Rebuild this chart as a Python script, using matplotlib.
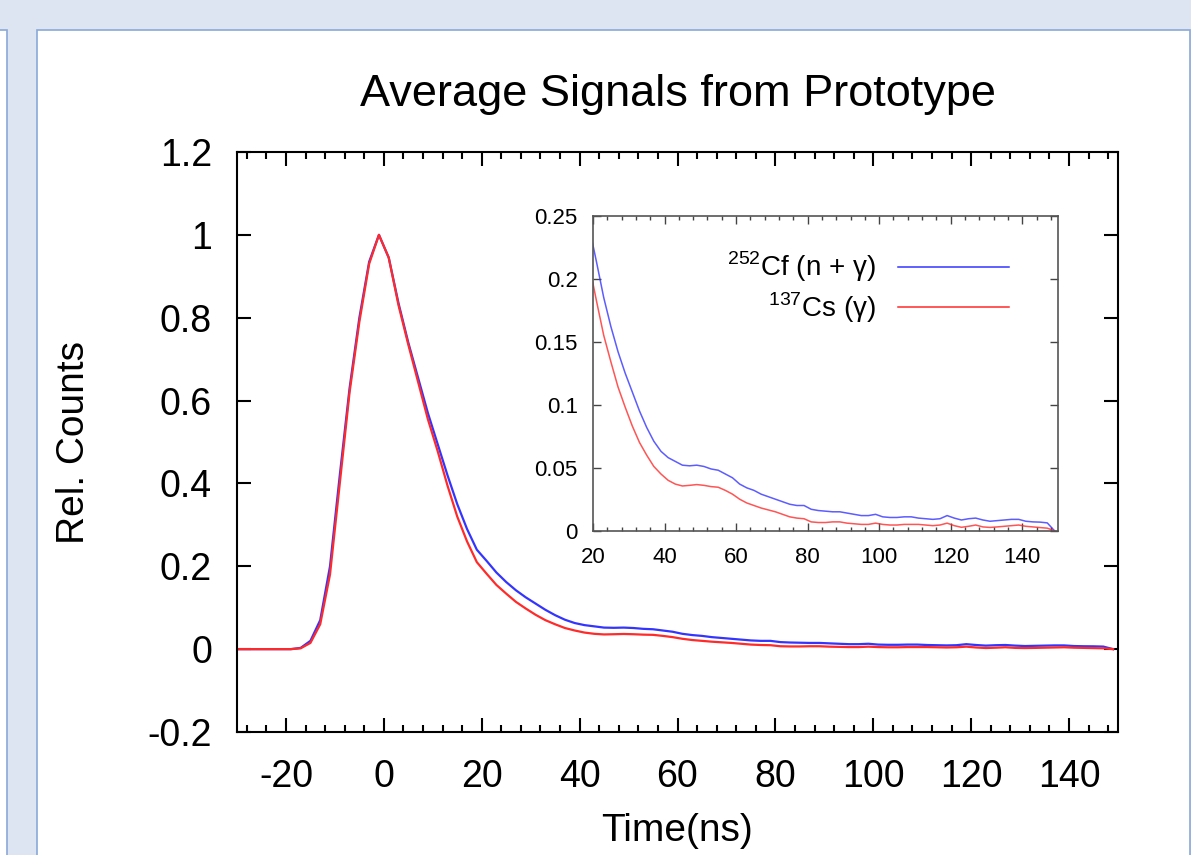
import matplotlib
matplotlib.use('Agg')
import matplotlib.pyplot as plt
from matplotlib.patches import Rectangle
from matplotlib.ticker import MultipleLocator, FormatStrFormatter

plt.rcParams['font.family'] = ['Liberation Sans', 'DejaVu Sans']
plt.rcParams['mathtext.fontset'] = 'custom'
plt.rcParams['mathtext.rm'] = 'Liberation Sans'
plt.rcParams['axes.unicode_minus'] = False

# time axis in ns, one sample every 2 ns
time_ns = list(range(-31, 150, 2))

# 252Cf (n + gamma)
cf_signal = [
    0, 0, 0, 0, 0, 0, 0,                      # -31 .. -19
    0.003, 0.02, 0.07, 0.2, 0.42, 0.63, 0.80, 0.935,   # -17 .. -3
    1.0, 0.945, 0.835, 0.74, 0.655, 0.57, 0.495, 0.42,  # -1 .. 13
    0.35, 0.29, 0.24, 0.213, 0.185, 0.162, 0.142, 0.125,  # 15 .. 29
    0.11, 0.095, 0.082, 0.071, 0.063, 0.058, 0.055, 0.052,  # 31 .. 45
    0.0515, 0.052, 0.051, 0.049, 0.048, 0.045, 0.042, 0.037,  # 47 .. 61
    0.034, 0.032, 0.029, 0.027, 0.025, 0.023, 0.021, 0.020,  # 63 .. 77
    0.020, 0.017, 0.016, 0.0155, 0.015, 0.015, 0.014, 0.013,  # 79 .. 93
    0.012, 0.012, 0.013, 0.011, 0.0105, 0.0105, 0.011, 0.011,  # 95 .. 109
    0.010, 0.0095, 0.009, 0.0095, 0.012, 0.010, 0.0085, 0.0095,  # 111 .. 125
    0.010, 0.0085, 0.0075, 0.008, 0.0085, 0.009, 0.009, 0.0075,  # 127 .. 141
    0.007, 0.0068, 0.0062, 0.0,                # 143 .. 149
]

# 137Cs (gamma)
cs_signal = [
    0, 0, 0, 0, 0, 0, 0,
    0.002, 0.015, 0.06, 0.18, 0.40, 0.62, 0.79, 0.93,
    1.0, 0.945, 0.83, 0.735, 0.645, 0.555, 0.478, 0.395,
    0.32, 0.26, 0.21, 0.182, 0.155, 0.134, 0.114, 0.098,
    0.083, 0.07, 0.06, 0.051, 0.045, 0.04, 0.037, 0.0355,
    0.036, 0.0366, 0.036, 0.035, 0.0345, 0.032, 0.029, 0.025,
    0.022, 0.020, 0.018, 0.0165, 0.015, 0.013, 0.011, 0.010,
    0.0095, 0.007, 0.0065, 0.0065, 0.007, 0.007, 0.006, 0.0055,
    0.005, 0.005, 0.006, 0.005, 0.0045, 0.0045, 0.005, 0.005,
    0.005, 0.0045, 0.004, 0.0045, 0.006, 0.004, 0.0027, 0.0035,
    0.0045, 0.003, 0.0026, 0.003, 0.0035, 0.004, 0.0045, 0.0035,
    0.003, 0.0025, 0.002, 0.0,
]

labels = [r'$^{252}$Cf (n + γ)', r'$^{137}$Cs (γ)']
blue = '#3434ff'
red = '#ff2a2a'

W, H = 1191, 855
fig = plt.figure(figsize=(W / 100, H / 100), dpi=100)
fig.patch.set_facecolor('#dce5f1')

# screenshot frame: white panels with a thin blue border
def px_rect(x0, y0, x1, y1):
    return Rectangle((x0 / W, 1 - y1 / H), (x1 - x0) / W, (y1 - y0) / H,
                     transform=fig.transFigure, facecolor='white',
                     edgecolor='#8aa8d8', linewidth=1.2, zorder=-10)

fig.patches.append(px_rect(-5, 30, 7, 900))
fig.patches.append(px_rect(37, 30, 1190, 900))

# main axes
ax = fig.add_axes([237 / W, 1 - 732 / H, 881 / W, 580 / H])
ax.plot(time_ns, cf_signal, color=blue, lw=1.6)
ax.plot(time_ns, cs_signal, color=red, lw=1.6)
ax.set_xlim(-30, 150)
ax.set_ylim(-0.2, 1.2)
ax.xaxis.set_major_locator(MultipleLocator(20))
ax.xaxis.set_minor_locator(MultipleLocator(4))
ax.yaxis.set_major_locator(MultipleLocator(0.2))
ax.yaxis.set_major_formatter(FormatStrFormatter('%g'))
ax.set_xticks([-20, 0, 20, 40, 60, 80, 100, 120, 140])
ax.tick_params(which='both', direction='in', top=True, right=True,
               width=1.5, labelsize=27)
ax.tick_params(which='major', length=10)
ax.tick_params(which='minor', length=5)
ax.tick_params(axis='y', pad=18)
ax.tick_params(axis='x', pad=19.5)
for s in ax.spines.values():
    s.set_linewidth(1.5)
ax.set_title('Average Signals from Prototype', fontsize=32.5, pad=33)
ax.set_xlabel('Time(ns)', fontsize=28, labelpad=13)
ax.set_ylabel('Rel. Counts', fontsize=28, labelpad=40)

# inset
axi = fig.add_axes([593 / W, 1 - 530.7 / H, 465 / W, 315 / H])
l1, = axi.plot(time_ns, cf_signal, color=blue, lw=1.1, alpha=0.8)
l2, = axi.plot(time_ns, cs_signal, color=red, lw=1.1, alpha=0.8)
axi.set_xlim(20, 150)
axi.set_ylim(0, 0.25)
axi.set_xticks([20, 40, 60, 80, 100, 120, 140])
axi.xaxis.set_minor_locator(MultipleLocator(4))
axi.yaxis.set_major_locator(MultipleLocator(0.05))
axi.yaxis.set_major_formatter(FormatStrFormatter('%g'))
axi.tick_params(which='both', direction='in', top=True, right=True,
                width=1.0, labelsize=16, color='#444444')
axi.tick_params(which='major', length=6)
axi.tick_params(which='minor', length=3)
axi.tick_params(axis='y', pad=11)
axi.tick_params(axis='x', pad=11.5)
for s in axi.spines.values():
    s.set_linewidth(1.2)
    s.set_color('#555555')

leg = axi.legend([l1, l2], labels, loc='upper right', markerfirst=False,
                 frameon=False, fontsize=20, handlelength=4.0,
                 handletextpad=0.8, labelspacing=0.23, borderpad=0,
                 bbox_to_anchor=(0.925, 0.936))
for h in leg.legend_handles:
    h.set_alpha(1.0)

fig.savefig('out.png', dpi=100, facecolor=fig.get_facecolor())
